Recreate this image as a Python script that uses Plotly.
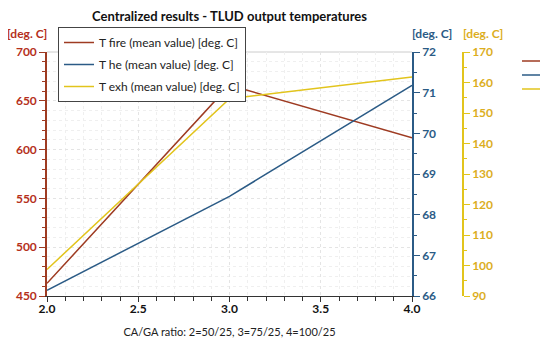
import plotly.graph_objects as go

x_ratio = [2.0, 3.0, 4.0]
t_fire = [463, 666, 612]
t_he = [66.14, 68.45, 71.18]
t_exh = [98.7, 154.7, 161.8]

C_FIRE = "#9e3b22"
C_FIRE_TXT = "#b5301c"
C_HE = "#2b5b86"
C_EXH = "#e2c41c"
C_EXH_TXT = "#dcae1e"
FONT = "Lato"

# page body has an 8px margin; work in screen coords and subtract it
OFF = 8
W, H = 550 - OFF, 345 - OFF
L, T = 47 - OFF, 52 - OFF
B = H - (296 - OFF)
R = 20
pw = W - L - R
ph = H - T - B
dom_end = (412 - OFF - L) / pw
yel_pos = (463 - OFF - L) / pw


def px(xs):
    return (xs - OFF - L) / pw


def py(ys):
    return (H - B - (ys - OFF)) / ph


fig = go.Figure()
fig.add_trace(go.Scatter(x=x_ratio, y=t_fire, mode="lines", name="T fire (mean value) [deg. C]",
                         legendgroup="a", line=dict(color=C_FIRE, width=1.5), yaxis="y"))
fig.add_trace(go.Scatter(x=x_ratio, y=t_he, mode="lines", name="T he (mean value) [deg. C]",
                         legendgroup="b", line=dict(color=C_HE, width=1.5), yaxis="y2"))
fig.add_trace(go.Scatter(x=x_ratio, y=t_exh, mode="lines", name="T exh (mean value) [deg. C]",
                         legendgroup="c", line=dict(color=C_EXH, width=1.5), yaxis="y3"))

grid = dict(showgrid=True, gridcolor="#e4e4e4", griddash="dot", gridwidth=1)
minor_grid = dict(showgrid=True, gridcolor="#efefef", griddash="dot", gridwidth=1)

fig.update_layout(
    width=W, height=H,
    margin=dict(l=L, r=R, t=T, b=B, autoexpand=False),
    paper_bgcolor="white", plot_bgcolor="white",
    font=dict(family=FONT, size=12, color="#222"),
    title=dict(text="<b>Centralized results - TLUD output temperatures</b>",
               x=(229.5 - OFF) / W, xanchor="center", y=1 - (16 - OFF) / H, yanchor="middle",
               font=dict(size=13, color="#111", family=FONT)),
    showlegend=True,
    legend=dict(x=px(58), y=py(27), xanchor="left", yanchor="top",
                bgcolor="white", bordercolor="#444", borderwidth=1,
                font=dict(size=12, color="#222", family=FONT), tracegroupgap=3,
                itemwidth=30),
    xaxis=dict(domain=[0, dom_end], range=[2.0, 4.0], tickvals=[2.0, 2.5, 3.0, 3.5, 4.0],
               ticktext=["<b>2.0</b>", "<b>2.5</b>", "<b>3.0</b>", "<b>3.5</b>", "<b>4.0</b>"],
               ticks="outside", ticklen=5, tickcolor="#333", showline=True, linecolor="#333",
               linewidth=1, tickfont=dict(size=12, color="#111"), ticklabelstandoff=-3,
               minor=dict(dtick=0.1, ticks="outside", ticklen=4, tickcolor="#333", **minor_grid),
               title=dict(text="CA/GA ratio: 2=50/25, 3=75/25, 4=100/25", standoff=12,
                          font=dict(size=11, color="#222")),
               automargin=False, mirror=False, zeroline=False, **grid),
    yaxis=dict(range=[450, 700], tickvals=[450, 500, 550, 600, 650, 700],
               ticktext=[f"<b>{v}</b>" for v in [450, 500, 550, 600, 650, 700]],
               ticks="outside", ticklen=6, tickcolor=C_FIRE, showline=True, linecolor=C_FIRE,
               linewidth=1.5, tickfont=dict(size=12, color=C_FIRE_TXT),
               minor=dict(dtick=10, ticks="outside", ticklen=3, tickcolor=C_FIRE, **minor_grid),
               automargin=False, zeroline=False, **grid),
    yaxis2=dict(range=[66, 72], overlaying="y", side="right", anchor="x",
                tickvals=[66, 67, 68, 69, 70, 71, 72],
                ticktext=[f"<b>{v}</b>" for v in [66, 67, 68, 69, 70, 71, 72]],
                ticks="outside", ticklen=6, tickcolor=C_HE, showline=True, linecolor=C_HE,
                linewidth=1.5, tickfont=dict(size=12, color=C_HE),
                minor=dict(dtick=0.5, ticks="outside", ticklen=3, tickcolor=C_HE),
                automargin=False, showgrid=False, zeroline=False),
    yaxis3=dict(range=[90, 170], overlaying="y", side="right", anchor="free", position=yel_pos,
                tickvals=list(range(90, 171, 10)),
                ticktext=[f"<b>{v}</b>" for v in range(90, 171, 10)],
                ticks="outside", ticklen=6, tickcolor=C_EXH, showline=True, linecolor=C_EXH,
                linewidth=1.5, tickfont=dict(size=12, color=C_EXH_TXT),
                minor=dict(dtick=5, ticks="outside", ticklen=3, tickcolor=C_EXH),
                automargin=False, showgrid=False, zeroline=False),
)

# top border of the plot area
fig.add_shape(type="line", xref="paper", yref="paper", x0=0, x1=dom_end, y0=1, y1=1,
              line=dict(color="#cccccc", width=1), layer="below")

# axis unit labels
for txt, xc, col in [("[deg. C]", 27, C_FIRE_TXT), ("[deg. C]", 432, C_HE), ("[deg. C]", 483, C_EXH_TXT)]:
    fig.add_annotation(text=f"<b>{txt}</b>", xref="paper", yref="paper",
                       x=px(xc), y=py(33), xanchor="center", yanchor="middle",
                       showarrow=False, font=dict(size=12, color=col, family=FONT))

# small legend samples at the right edge
for yy, col in [(61, C_FIRE), (75, C_HE), (89, C_EXH)]:
    fig.add_shape(type="line", xref="paper", yref="paper",
                  x0=px(522), x1=px(540), y0=py(yy), y1=py(yy),
                  line=dict(color=col, width=1.5))

fig.write_html("out.html")
